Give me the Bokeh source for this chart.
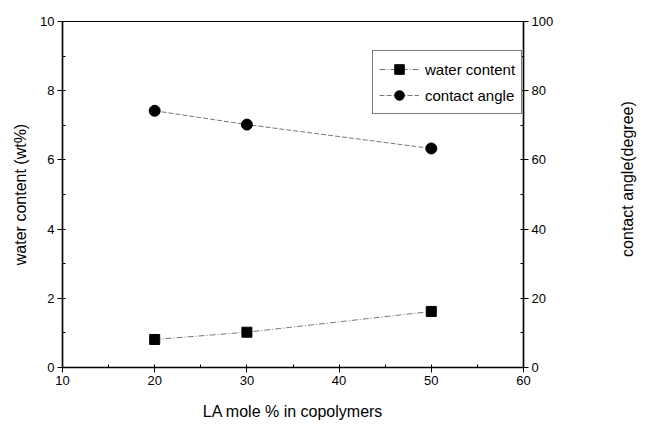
import math
from bokeh.plotting import figure
from bokeh.layouts import row
from bokeh.models import Range1d, LinearAxis, SingleIntervalTicker, Legend, LegendItem
from bokeh.core.properties import value
from bokeh.embed import file_html
from bokeh.resources import INLINE

la_mole = [20, 30, 50]
water_content = [0.81, 1.02, 1.62]
contact_angle = [74.2, 70.2, 63.3]
right_axis_title = "contact angle(degree)"

FONT = "Liberation Sans"

p = figure(width=604, height=426, output_backend="svg", toolbar_location=None,
           x_range=Range1d(10, 60), y_range=Range1d(0, 10),
           min_border_left=62, min_border_right=81, min_border_top=21, min_border_bottom=59)
p.xgrid.visible = False
p.ygrid.visible = False
p.outline_line_color = "black"
p.outline_line_width = 1.2
p.background_fill_color = "white"
p.border_fill_color = "white"

p.extra_y_ranges = {"angle": Range1d(0, 100)}

def style(ax):
    ax.axis_line_width = 1.5
    ax.axis_line_color = "black"
    ax.major_tick_line_color = "black"
    ax.minor_tick_line_color = "black"
    ax.major_tick_out = 5
    ax.major_tick_in = 0
    ax.minor_tick_out = 0
    ax.minor_tick_in = 3
    ax.major_label_text_font = FONT
    ax.major_label_text_font_size = "13px"
    ax.major_label_text_color = "black"
    ax.axis_label_text_font = FONT
    ax.axis_label_text_font_size = "16px"
    ax.axis_label_text_font_style = "normal"
    ax.axis_label_text_color = "black"
    ax.major_label_standoff = 3

p.xaxis.ticker = SingleIntervalTicker(interval=10, num_minor_ticks=2)
p.yaxis.ticker = SingleIntervalTicker(interval=2, num_minor_ticks=2)
p.xaxis.axis_label = "LA mole % in copolymers"
p.yaxis.axis_label = "water content (wt%)"
style(p.xaxis[0])
style(p.yaxis[0])
p.xaxis.axis_label_standoff = 15
p.yaxis.axis_label_standoff = 8

ra = LinearAxis(y_range_name="angle",
                ticker=SingleIntervalTicker(interval=20, num_minor_ticks=2))
style(ra)
p.add_layout(ra, "right")

wl = p.line(la_mole, water_content, line_color="#777777", line_width=1, line_dash="6 2 1 2")
wm = p.scatter(la_mole, water_content, marker="square", size=10, color="black")
cl = p.line(la_mole, contact_angle, line_color="#777777", line_width=1, line_dash="5 2",
            y_range_name="angle")
cm = p.scatter(la_mole, contact_angle, marker="circle", size=11, color="black",
               y_range_name="angle")

legend = Legend(items=[LegendItem(label="water content", renderers=[wl, wm]),
                       LegendItem(label="contact angle", renderers=[cl, cm])],
                location=(310, 253))
legend.label_text_font = FONT
legend.label_text_font_size = "15px"
legend.label_text_color = "black"
legend.glyph_width = 40
legend.glyph_height = 24
legend.label_standoff = 6
legend.padding = 6
legend.spacing = 2
legend.margin = 0
legend.border_line_color = "black"
legend.border_line_width = 1.5
legend.background_fill_alpha = 1
p.add_layout(legend)

# narrow side panel carrying the right axis title (reads bottom-to-top)
q = figure(width=46, height=426, output_backend="svg", toolbar_location=None,
           x_range=Range1d(0, 1), y_range=Range1d(0, 426),
           min_border_left=0, min_border_right=0, min_border_top=0, min_border_bottom=0)
q.axis.visible = False
q.grid.visible = False
q.outline_line_color = None
q.background_fill_color = "white"
q.border_fill_color = "white"
q.text(x=[0.5], y=[426 - 194], text=[right_axis_title], angle=math.pi / 2,
       text_align="center", text_baseline="middle",
       text_font=value(FONT), text_font_size="16px", text_color="black")

layout = row(p, q, spacing=0)
open("out.html", "w").write(file_html(layout, INLINE))
